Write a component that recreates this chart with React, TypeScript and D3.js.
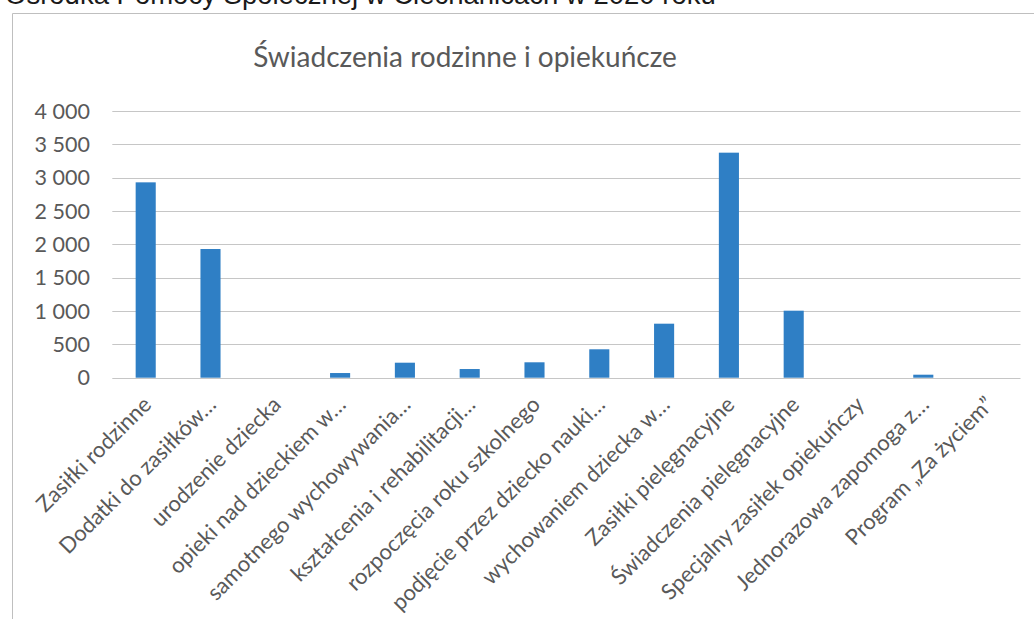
import React from "react";
import * as d3 from "d3";

const categories: string[] = [
  "Zasiłki rodzinne",
  "Dodatki do zasiłków…",
  "urodzenie dziecka",
  "opieki nad dzieckiem w…",
  "samotnego wychowywania…",
  "kształcenia i rehabilitacji…",
  "rozpoczęcia roku szkolnego",
  "podjęcie przez dziecko nauki…",
  "wychowaniem dziecka w…",
  "Zasiłki pielęgnacyjne",
  "Świadczenia pielęgnacyjne",
  "Specjalny zasiłek opiekuńczy",
  "Jednorazowa zapomoga z…",
  "Program „Za życiem”",
];

const values: number[] = [2930, 1930, 0, 70, 225, 130, 231, 426, 810, 3375, 1005, 0, 45, 0];

const yTicks: number[] = [0, 500, 1000, 1500, 2000, 2500, 3000, 3500, 4000];

const chartTitle = "Świadczenia rodzinne i opiekuńcze";
const pageHeading = "Ośrodka Pomocy Społecznej w Ciechanicach w 2020 roku";

const W = 1034;
const H = 619;
const plot = { left: 113.3, right: 1020.5, top: 111, bottom: 377.7 };

const locale = d3.formatLocale({
  decimal: ",",
  thousands: "\u00a0",
  grouping: [3],
  currency: ["", " zł"],
});
const fmt = locale.format(",d");

const FONT = "Lato, 'Noto Sans', sans-serif";

export default function App() {
  const x = d3
    .scaleBand<string>()
    .domain(categories)
    .range([plot.left, plot.right])
    .paddingInner(0.69)
    .paddingOuter(0.345);
  const y = d3.scaleLinear().domain([0, 4000]).range([plot.bottom, plot.top]);

  return (
    <svg
      width={W}
      height={H}
      style={{ position: "absolute", left: 0, top: 0, background: "#fff" }}
    >
      <text
        x={5}
        y={4}
        fontFamily="'Liberation Sans', Arial, sans-serif"
        fontSize={27.5}
        fill="#1a1a1a"
      >
        {pageHeading}
      </text>
      <path d={`M12.5,${H} V13.5 H${W}`} fill="none" stroke="#bfbfbf" strokeWidth={1} />
      <text
        x={465}
        y={67}
        textAnchor="middle"
        fontFamily={FONT}
        fontSize={28}
        fill="#595959"
      >
        {chartTitle}
      </text>
      {yTicks.map((t) => (
        <g key={t}>
          <line
            x1={plot.left - 1}
            x2={plot.right}
            y1={Math.round(y(t)) + 0.5}
            y2={Math.round(y(t)) + 0.5}
            stroke="#c6c6c6"
            strokeWidth={1}
          />
          <text
            x={90}
            y={y(t)}
            dy="0.36em"
            textAnchor="end"
            fontFamily={FONT}
            fontSize={21.5}
            fill="#595959"
          >
            {fmt(t)}
          </text>
        </g>
      ))}
      {categories.map((c, i) => (
        <rect
          key={c}
          x={x(c)!}
          width={x.bandwidth()}
          y={y(values[i])}
          height={y(0) - y(values[i])}
          fill="#2f7fc5"
        />
      ))}
      {categories.map((c) => {
        const cx = x(c)! + x.bandwidth() / 2;
        return (
          <text
            key={"l" + c}
            transform={`translate(${cx + 7},406) rotate(-45)`}
            textAnchor="end"
            fontFamily={FONT}
            fontSize={22}
            fill="#595959"
          >
            {c}
          </text>
        );
      })}
    </svg>
  );
}
